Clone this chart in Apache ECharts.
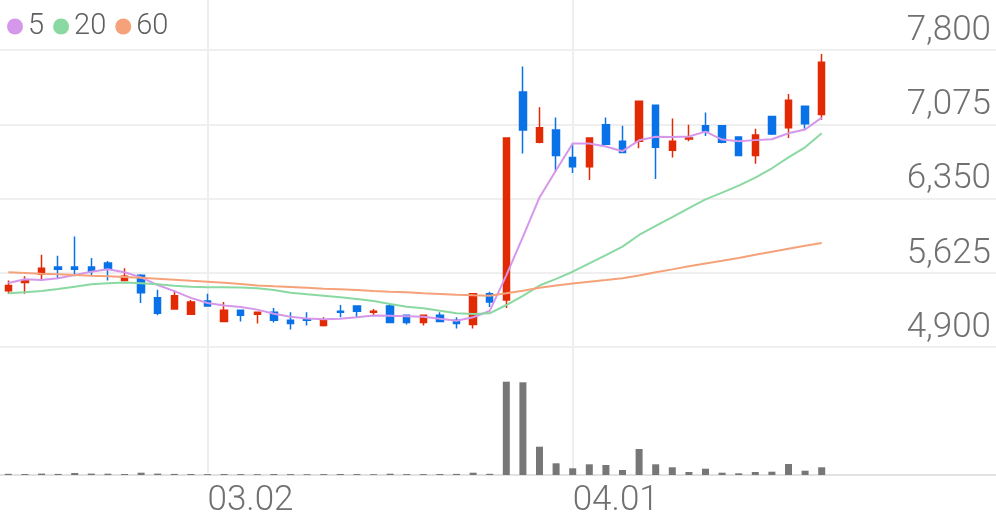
<!DOCTYPE html>
<html><head><meta charset="utf-8">
<script src="https://cdn.jsdelivr.net/npm/echarts@6/dist/echarts.min.js"></script>
<style>html,body{margin:0;padding:0;background:#fff}#c{width:996px;height:519px}</style>
</head><body><div id="c"></div>
<script>
const dates = ['02.13','02.14','02.17','02.18','02.19','02.20','02.21','02.24','02.25','02.26',
  '02.27','02.28','03.02','03.03','03.04','03.05','03.06','03.09','03.10','03.11',
  '03.12','03.13','03.16','03.17','03.18','03.19','03.20','03.23','03.24','03.25',
  '03.26','03.27','03.30','03.31','04.01','04.02','04.03','04.06','04.07','04.08',
  '04.09','04.10','04.13','04.14','04.16','04.17','04.20','04.21','04.22','04.23'];
const opens = [5450,5530,5610,5680,5680,5680,5720,5550,5600,5380,
  5270,5220,5350,5150,5260,5220,5240,5160,5170,5110,
  5250,5300,5240,5300,5210,5140,5210,5160,5120,5420,
  5360,7390,6900,7020,6750,6660,7070,6910,6910,7260,
  6820,6930,7060,7060,6950,6770,7150,7040,7250,7170];
const closes = [5500,5550,5670,5660,5660,5640,5670,5590,5430,5230,
  5400,5340,5300,5260,5210,5240,5160,5130,5160,5160,
  5240,5250,5250,5140,5140,5210,5150,5130,5420,5340,
  6940,7020,7040,6770,6660,6940,6880,6800,7300,6850,
  6910,6940,7010,6900,6770,6970,6980,7310,7080,7680];
const lows = [5420,5420,5550,5570,5590,5590,5550,5550,5330,5210,
  5270,5220,5300,5150,5150,5130,5140,5070,5110,5100,
  5190,5190,5200,5140,5120,5110,5150,5080,5080,5290,
  5280,6790,6890,6610,6600,6530,6880,6800,6840,6540,
  6750,6910,6960,6890,6770,6690,6970,6940,7030,7120];
const highs = [5550,5590,5800,5790,5980,5770,5740,5670,5610,5460,
  5450,5360,5420,5340,5260,5240,5280,5240,5240,5190,
  5310,5300,5270,5320,5210,5210,5240,5190,5420,5440,
  6940,7640,7240,7140,6890,6940,7140,7060,7300,7260,
  7130,7070,7190,7060,6950,7030,7150,7370,7250,7760];
const ma5 = [5525,5561,5554,5571,5603,5635,5659,5630,5580,5505,
  5445,5380,5330,5305,5290,5265,5225,5195,5178,5170,
  5175,5190,5208,5205,5200,5195,5175,5157,5190,5252,
  5600,5975,6360,6625,6888,6888,6857,6812,6918,6953,
  6950,6956,7003,6925,6910,6920,6928,6987,7024,7140];
const ma20 = [5424,5434,5447,5466,5489,5512,5522,5530,5522,5512,
  5499,5489,5483,5483,5480,5473,5457,5430,5415,5401,
  5385,5369,5349,5320,5294,5278,5255,5229,5222,5229,
  5310,5400,5500,5565,5635,5717,5798,5880,5994,6082,
  6169,6257,6342,6407,6475,6553,6645,6752,6850,6987];
const ma60 = [5630,5623,5616,5610,5603,5596,5590,5584,5577,5567,
  5557,5547,5538,5528,5515,5501,5492,5486,5479,5469,
  5463,5457,5447,5440,5434,5424,5418,5411,5405,5400,
  5424,5450,5478,5500,5520,5538,5554,5571,5598,5630,
  5658,5688,5716,5742,5770,5800,5830,5860,5888,5915];
const volumes = [60,50,70,55,100,70,65,50,115,70,
  55,50,45,50,45,40,50,45,40,45,
  50,45,40,65,45,45,50,55,115,60,
  4665,4635,1415,585,335,535,500,250,1300,535,
  385,150,315,115,85,150,165,550,215,385];
const priceTicks = [4900,5625,6350,7075,7800];
const labelDates = ['03.02','04.01'];
const maNames = ['5','20','60'];
const emptySlots = 10;

const cats = dates.concat(new Array(emptySlots).fill(''));
const showTick = (i, v) => labelDates.indexOf(v) >= 0;
const font = 'Roboto, "Noto Sans", sans-serif';

const chart = echarts.init(document.getElementById('c'), null, {renderer: 'canvas'});
chart.setOption({
  animation: false,
  backgroundColor: '#fff',
  legend: {
    data: maNames, left: 2, top: 7, icon: 'circle', itemWidth: 16, itemHeight: 16, itemGap: 9,
    textStyle: {fontSize: 29, color: '#5f5f5f', fontFamily: font, fontWeight: 300}
  },
  grid: [
    {left: 0, right: 0, top: 50, height: 297},
    {left: 0, right: 0, top: 375, height: 100},
    {left: 8.3, right: 8.3, top: 0, bottom: 44}
  ],
  xAxis: [
    {gridIndex: 0, type: 'category', data: cats, axisLine: {show: false}, axisTick: {show: false},
     axisLabel: {show: false}, splitLine: {show: false}},
    {gridIndex: 1, type: 'category', data: cats, axisLine: {show: true, lineStyle: {color: '#e2e2e2', width: 2}},
     axisTick: {show: false}, axisLabel: {show: false}, splitLine: {show: false}},
    {gridIndex: 2, type: 'category', data: cats, boundaryGap: false, axisLine: {show: false}, axisTick: {show: false},
     axisLabel: {interval: showTick, align: 'left', fontSize: 35, color: '#707070', fontFamily: font, fontWeight: 300, margin: 11},
     splitLine: {show: true, interval: showTick, lineStyle: {color: '#eeeeee', width: 2}}}
  ],
  yAxis: [
    {gridIndex: 0, type: 'value', position: 'right', min: priceTicks[0], max: priceTicks[priceTicks.length - 1],
     interval: priceTicks[1] - priceTicks[0], axisLine: {show: false}, axisTick: {show: false},
     splitLine: {show: true, lineStyle: {color: '#efefef', width: 2}},
     axisLabel: {inside: true, margin: 5, fontSize: 35, color: '#707070', fontFamily: font, fontWeight: 300,
       verticalAlign: 'bottom', lineHeight: 38, formatter: v => v.toLocaleString('en-US')}},
    {gridIndex: 1, type: 'value', min: 0, max: 5000, show: false, splitLine: {show: false}},
    {gridIndex: 2, type: 'value', min: 0, max: 1, show: false, splitLine: {show: false}}
  ],
  series: [
    {type: 'candlestick', xAxisIndex: 0, yAxisIndex: 0, barWidth: 7,
     data: dates.map((d, i) => [opens[i], closes[i], lows[i], highs[i]]),
     itemStyle: {color: '#e22a05', color0: '#0a72e8', borderColor: '#e22a05', borderColor0: '#0a72e8', borderWidth: 1.5}},
    {name: maNames[0], type: 'line', xAxisIndex: 0, yAxisIndex: 0, data: ma5, symbol: 'none',
     lineStyle: {color: '#d597ea', width: 2}, itemStyle: {color: '#d597ea'}},
    {name: maNames[1], type: 'line', xAxisIndex: 0, yAxisIndex: 0, data: ma20, symbol: 'none',
     lineStyle: {color: '#8ad9a2', width: 2}, itemStyle: {color: '#8ad9a2'}},
    {name: maNames[2], type: 'line', xAxisIndex: 0, yAxisIndex: 0, data: ma60, symbol: 'none',
     lineStyle: {color: '#f5a27a', width: 2}, itemStyle: {color: '#f5a27a'}},
    {type: 'bar', xAxisIndex: 1, yAxisIndex: 1, data: volumes, barWidth: 7, itemStyle: {color: '#777777'}}
  ]
});
</script></body></html>
